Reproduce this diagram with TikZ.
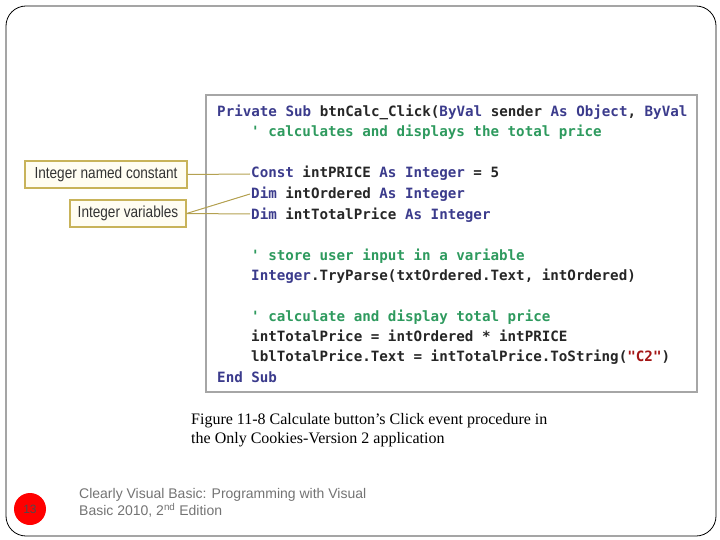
\documentclass[tikz,border=0pt]{standalone}
\usepackage{fontspec}
\setmainfont{Liberation Sans}
\newfontfamily\codefont{DejaVu Sans Mono}
\newfontfamily\serf{Liberation Serif}
\newfontfamily\narrow[FakeStretch=0.85]{Liberation Sans}
\begin{document}
\definecolor{kw}{HTML}{3B3B8C}
\definecolor{cm}{HTML}{2E9A5E}
\definecolor{st}{HTML}{A31515}
\definecolor{ol}{HTML}{C8B35A}
\definecolor{cream}{HTML}{FFFDF2}
\begin{tikzpicture}[x=1pt,y=-1pt,
  code/.style={anchor=base west,inner sep=0pt,text=black!85,font=\codefont\bfseries\fontsize{14.2}{16}\selectfont},
  call/.style={draw=ol,line width=1.2pt,fill=cream,text=black!80,font=\narrow\fontsize{16}{18}\selectfont,inner sep=0pt,minimum height=27pt},
  lead/.style={draw=ol!90!black,line width=1pt}]
\useasboundingbox (0,0) rectangle (720,540);
\draw[line width=0.8pt,rounded corners=20pt] (6,6) rectangle (716,536);
\draw[gray!70,line width=1.2pt] (206,95) rectangle (697,392);
\def\c#1{\textcolor{kw}{#1}}
\node[code] (l1) at (217,117) {\c{Private Sub} btnCalc\_Click(\c{ByVal} sender \c{As} \c{Object}, \c{ByVal}};
\node[code] (l2) at (251,137) {\textcolor{cm}{' calculates and displays the total price}};
\node[code] (l3) at (251,178) {\c{Const} intPRICE \c{As} \c{Integer} = 5};
\node[code] (l4) at (251,199) {\c{Dim} intOrdered \c{As} \c{Integer}};
\node[code] (l5) at (251,219) {\c{Dim} intTotalPrice \c{As} \c{Integer}};
\node[code] (l6) at (251,260) {\textcolor{cm}{' store user input in a variable}};
\node[code] (l7) at (251,280) {\c{Integer}.TryParse(txtOrdered.Text, intOrdered)};
\node[code] (l8) at (251,321) {\textcolor{cm}{' calculate and display total price}};
\node[code] (l9) at (251,341) {intTotalPrice = intOrdered * intPRICE};
\node[code] (l10) at (251,361) {lblTotalPrice.Text = intTotalPrice.ToString(\textcolor{st}{"C2"})};
\node[code] (l11) at (217,382) {\c{End Sub}};
\node[call,minimum width=162pt] (b1) at (106,174.5) {Integer named constant};
\node[call,minimum width=116pt] (b2) at (128,213.5) {Integer variables};
\coordinate (p3) at (250,174);
\coordinate (p4) at (250,194);
\coordinate (p5) at (250,214);
\draw[lead] (b1.east) -- (p3);
\draw[lead] (b2.east) -- (p4);
\draw[lead] (b2.east) -- (p5);
\node[anchor=north west,inner sep=0pt,align=left,font=\serf\fontsize{16}{19}\selectfont] (cap) at (191,413) {Figure 11-8 Calculate button’s Click event procedure in\\the Only Cookies-Version 2 application};
\node[circle,fill=red,minimum size=32pt,inner sep=0pt,text=black!70] (pg) at (30,509) {\fontsize{12}{12}\selectfont 13};
\node[anchor=north west,inner sep=0pt,align=left,text=gray!90!black,font=\fontsize{14}{17}\selectfont] (ft) at (79,488) {Clearly Visual Basic: Programming with Visual\\Basic 2010, 2\textsuperscript{nd} Edition};
\end{tikzpicture}
\end{document}
